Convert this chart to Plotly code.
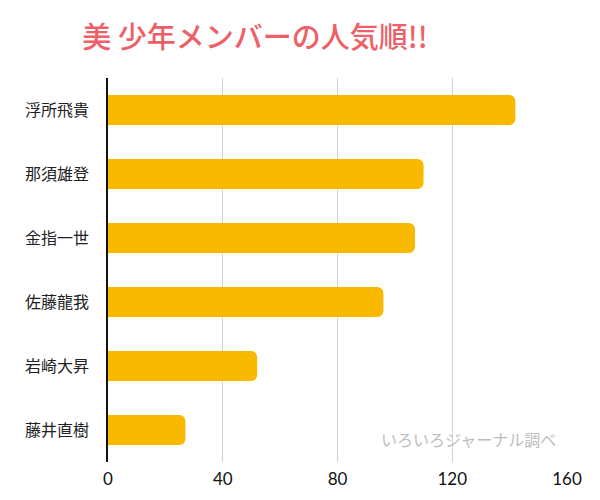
import plotly.graph_objects as go

names = ["浮所飛貴", "那須雄登", "金指一世", "佐藤龍我", "岩崎大昇", "藤井直樹"]
votes = [142, 110, 107, 96, 52, 27]
tick_vals = [0, 40, 80, 120, 160]
title_text = "美 少年メンバーの人気順!!"
source_text = "いろいろジャーナル調べ"

W, H = 600, 500
L, R, T, B = 108, 33, 78, 38

fig = go.Figure()
fig.add_trace(go.Bar(
    x=votes, y=names, orientation="h",
    marker=dict(color="#F9B900", line=dict(width=0)),
    width=0.47,
    hoverinfo="x+y",
))

fig.update_layout(
    width=W, height=H,
    margin=dict(l=L, r=R, t=T, b=B),
    paper_bgcolor="white", plot_bgcolor="white",
    barcornerradius=6,
    showlegend=False,
    font=dict(family="Noto Sans CJK JP, Noto Sans, sans-serif", color="#222222"),
    title=dict(
        text=title_text,
        x=255 / W, xanchor="center",
        y=1 - 38 / H, yanchor="middle",
        font=dict(size=29, color="#EF5F67", family="Noto Sans CJK JP", weight=500),
    ),
    xaxis=dict(
        range=[0, 160], tickvals=tick_vals, ticktext=[str(v) for v in tick_vals],
        showgrid=True, gridcolor="#D2D2D2", gridwidth=1,
        zeroline=False, showline=False, ticks="",
        ticklabelstandoff=5,
        tickfont=dict(size=17, family="Lato, Noto Sans, sans-serif", color="#111111"),
        fixedrange=True,
    ),
    yaxis=dict(
        categoryorder="array", categoryarray=names, autorange="reversed",
        showline=True, linecolor="#111111", linewidth=1.5,
        showgrid=False, ticks="",
        ticklabelstandoff=14,
        tickfont=dict(size=16, family="Noto Sans CJK JP", color="#222222"),
        fixedrange=True,
    ),
)

fig.add_annotation(
    text=source_text, xref="paper", yref="paper",
    x=(379 - L) / (W - L - R), xanchor="left",
    y=(H - B - 439) / (H - T - B), yanchor="middle",
    showarrow=False,
    font=dict(size=16, color="#BDBDBD", family="Noto Sans CJK JP"),
)

fig.write_html("out.html")
